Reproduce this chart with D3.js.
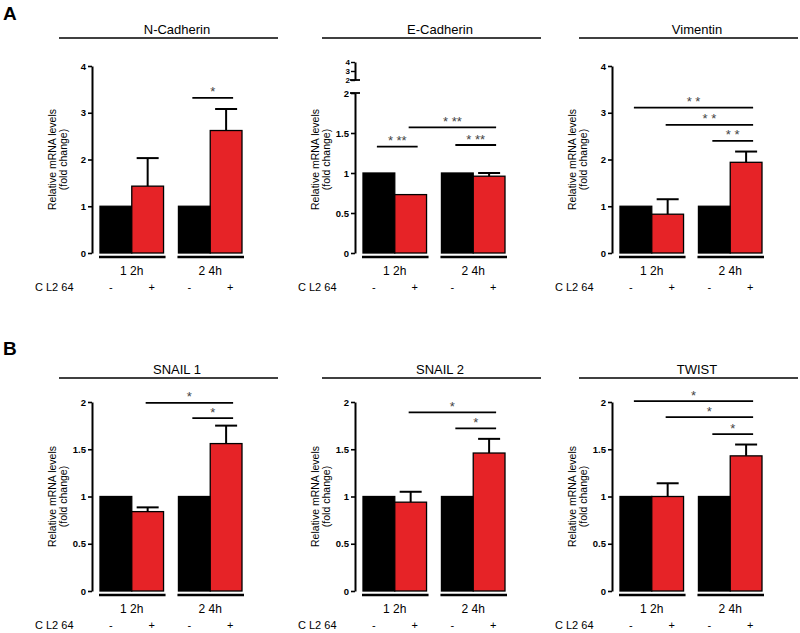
<!DOCTYPE html>
<html>
<head>
<meta charset="utf-8">
<script src="https://cdn.jsdelivr.net/npm/d3@7"></script>
<style>
body { margin: 0; background: #fff; }
svg { display: block; font-family: Arial, "Liberation Sans", sans-serif; }
</style>
</head>
<body>
<script>
// Values
const genes = ['N-Cadherin', 'E-Cadherin', 'Vimentin', 'SNAIL 1', 'SNAIL 2', 'TWIST']
const times = ['1 2h', '2 4h']
const treatments = ['-', '+']
const control12 = [1, 1, 1, 1, 1, 1]
const control24 = [1, 1, 1, 1, 1, 1]
const cl264at12 = [1.43, 0.73, 0.83, 0.84, 0.94, 1.0]
const cl264at12err = [0.60, 0, 0.32, 0.045, 0.11, 0.14]
const cl264at24 = [2.62, 0.96, 1.94, 1.56, 1.46, 1.43]
const cl264at24err = [0.46, 0.04, 0.23, 0.19, 0.15, 0.12]
const yMaxes = [4, 2, 4, 2, 2, 2]
const ticksWhole = [0, 1, 2, 3, 4]
const ticksHalf = [0, 0.5, 1, 1.5, 2]
const ticksBroken = [2, 3, 4]
// significance brackets: gene, from bar, to bar, height (fold change), stars
const brackets = [
	[0, 2, 3, 3.32, '*'],
	[1, 0, 1, 1.33, '* **'],
	[1, 1, 3, 1.57, '* **'],
	[1, 2, 3, 1.35, '* **'],
	[2, 0, 3, 3.11, '* *'],
	[2, 1, 3, 2.74, '* *'],
	[2, 2, 3, 2.40, '* *'],
	[3, 1, 3, 1.99, '*'],
	[3, 2, 3, 1.83, '*'],
	[4, 1, 3, 1.89, '*'],
	[4, 2, 3, 1.72, '*'],
	[5, 0, 3, 2.01, '*'],
	[5, 1, 3, 1.84, '*'],
	[5, 2, 3, 1.66, '*']
]

const red = '#e62327'
const fontFam = 'Arial, "Liberation Sans", sans-serif'
const svg = d3.select('body').append('svg')
	.attr('width', 800).attr('height', 633)

// layout
const axisXs = [92, 355, 612]
const rows = [
	{letter: 'A', letterY: 20, titleY: 34, lineY: 38, top: 66, zero: 253, timeY: 275, drugY: 291},
	{letter: 'B', letterY: 355, titleY: 374, lineY: 378, top: 402, zero: 591, timeY: 613, drugY: 629}
]

rows.forEach(r => {
	svg.append('text').attr('x', 3).attr('y', r.letterY)
		.style('font-size', '19px').style('font-weight', 'bold')
		.text(r.letter)
})

genes.forEach((gene, gi) => {
	const row = rows[Math.floor(gi / 3)]
	const ax = axisXs[gi % 3]
	const g = svg.append('g')
	const broken = gene === 'E-Cadherin'

	// title with rule
	g.append('line')
		.attr('x1', ax - 33).attr('x2', ax + 186)
		.attr('y1', row.lineY).attr('y2', row.lineY)
		.style('stroke', '#000').style('stroke-width', 1.6)
	g.append('text')
		.attr('x', ax + 85).attr('y', row.titleY)
		.style('text-anchor', 'middle').style('font-size', '13px')
		.text(gene)

	// y scale
	const y = d3.scaleLinear().domain([0, yMaxes[gi]])
		.range([row.zero, broken ? 93 : row.top])
	const yAxis = d3.axisLeft(y).tickSize(4).tickSizeOuter(0)
		.tickValues(yMaxes[gi] === 4 ? ticksWhole : ticksHalf)
		.tickFormat(d => d === 0.5 ? '0.5' : d)
	const axG = g.append('g').attr('transform', `translate(${ax},0)`).call(yAxis)
	axG.select('.domain').style('stroke-width', 2)
	axG.selectAll('.tick line').style('stroke-width', 1.6)
	axG.selectAll('.tick text').attr('x', -6)
		.style('font-size', '9.5px').style('font-weight', 'bold').style('font-family', fontFam)

	if (broken) {
		// upper segment of the broken axis
		const yUp = d3.scaleLinear().domain([2, 4]).range([80, 62])
		const upG = g.append('g').attr('transform', `translate(${ax},0)`)
			.call(d3.axisLeft(yUp).tickSize(4).tickSizeOuter(0).tickValues(ticksBroken).tickFormat(d3.format('d')))
		upG.select('.domain').style('stroke-width', 2)
		upG.selectAll('.tick line').style('stroke-width', 1.4)
		upG.selectAll('.tick text').attr('x', -5)
			.style('font-size', '8px').style('font-weight', 'bold').style('font-family', fontFam)
		;[yUp(2), y(2)].forEach(py => {
			g.append('line').attr('x1', ax - 5).attr('x2', ax + 5)
				.attr('y1', py).attr('y2', py)
				.style('stroke', '#000').style('stroke-width', 1.8)
		})
	}

	// y label
	const midY = (y.range()[0] + (broken ? 66 : y.range()[1])) / 2
	;['Relative mRNA levels', '(fold change)'].forEach((t, i) => {
		g.append('text')
			.attr('transform', `translate(${ax - 36 + i * 11},${midY}) rotate(-90)`)
			.style('text-anchor', 'middle').style('font-size', '10.5px')
			.text(t)
	})

	// x scales
	const xGroup = d3.scaleBand().domain(times).range([ax + 8, ax + 150]).paddingInner(0.19)
	const xTreat = d3.scaleBand().domain(treatments).range([0, xGroup.bandwidth()])

	const bars = [
		{time: times[0], treat: '-', v: control12[gi], e: 0},
		{time: times[0], treat: '+', v: cl264at12[gi], e: cl264at12err[gi]},
		{time: times[1], treat: '-', v: control24[gi], e: 0},
		{time: times[1], treat: '+', v: cl264at24[gi], e: cl264at24err[gi]}
	]
	bars.forEach(b => {
		b.x = xGroup(b.time) + xTreat(b.treat)
		b.cx = b.x + xTreat.bandwidth() / 2
	})

	// error bars (upper only)
	bars.filter(b => b.e > 0).forEach(b => {
		g.append('line').attr('x1', b.cx).attr('x2', b.cx)
			.attr('y1', y(b.v)).attr('y2', y(b.v + b.e))
			.style('stroke', '#000').style('stroke-width', 2)
		g.append('line').attr('x1', b.cx - 11).attr('x2', b.cx + 11)
			.attr('y1', y(b.v + b.e)).attr('y2', y(b.v + b.e))
			.style('stroke', '#000').style('stroke-width', 2)
	})

	g.selectAll('rect.bar').data(bars).join('rect')
		.attr('class', 'bar')
		.attr('x', d => d.x).attr('width', xTreat.bandwidth())
		.attr('y', d => y(d.v)).attr('height', d => y(0) - y(d.v))
		.style('fill', d => d.treat === '+' ? red : '#000')
		.style('stroke', '#000').style('stroke-width', 1.3)

	// group baselines and labels
	times.forEach(t => {
		g.append('line')
			.attr('x1', xGroup(t) - 1).attr('x2', xGroup(t) + xGroup.bandwidth() + 2)
			.attr('y1', row.zero + 4).attr('y2', row.zero + 4)
			.style('stroke', '#000').style('stroke-width', 2.4)
		g.append('text')
			.attr('x', xGroup(t) + xGroup.bandwidth() / 2).attr('y', row.timeY)
			.style('text-anchor', 'middle').style('font-size', '12px')
			.text(t)
	})

	g.append('text').attr('x', ax - 57).attr('y', row.drugY)
		.style('font-size', '11px').text('C L2 64')
	bars.forEach(b => {
		g.append('text')
			.attr('x', b.cx + (b.treat === '-' ? -5 : 4)).attr('y', row.drugY)
			.style('text-anchor', 'middle').style('font-size', '11px')
			.text(b.treat)
	})

	// significance
	brackets.filter(s => s[0] === gi).forEach(s => {
		const x1 = bars[s[1]].cx - 2
		const x2 = bars[s[2]].cx + 7
		const py = y(s[3])
		g.append('line').attr('x1', x1).attr('x2', x2)
			.attr('y1', py).attr('y2', py)
			.style('stroke', '#000').style('stroke-width', 1.8)
		g.append('text').attr('x', (x1 + x2) / 2).attr('y', py - 1.5)
			.style('text-anchor', 'middle').style('font-size', '13px')
			.style('fill', '#444')
			.text(s[4])
	})
})
</script>
</body>
</html>
